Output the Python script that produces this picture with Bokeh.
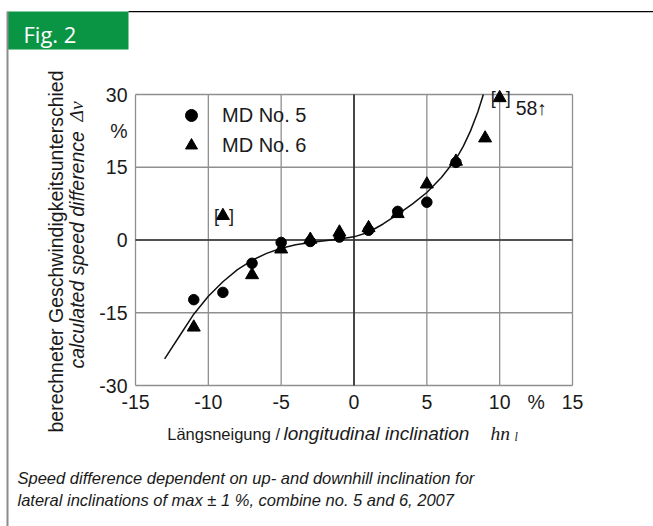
import math
from bokeh.plotting import figure
from bokeh.models import Range1d, FixedTicker, Label, BoxAnnotation
from bokeh.embed import file_html
from bokeh.resources import INLINE

# ---------------- data ----------------
x_axis_ticks = [-15, -10, -5, 0, 5, 10, 12.5, 15]
x_axis_labels = ["-15", "-10", "-5", "0", "5", "10", "%", "15"]
y_axis_ticks = [-30, -15, 0, 15, 22.5, 30]
y_axis_labels = ["-30", "-15", "0", "15", "%", "30"]

md5_x = [-11, -9, -7, -5, -3, -1, 1, 3, 5, 7]
md5_y = [-12.3, -10.8, -4.8, -0.5, -0.3, 0.6, 2.0, 5.9, 7.8, 16.0]

md6_x = [-11, -7, -5, -3, -1, 1, 3, 5, 7, 9]
md6_y = [-18.0, -7.2, -1.9, 0.1, 1.6, 2.5, 5.4, 11.5, 16.2, 21.0]

# bracketed (excluded) MD No. 6 values; the one at 10 % is 58 %, drawn at the top edge
md6_flag_x = [-9, 10]
md6_flag_y = [5.0, 29.3]
md6_flag_note = ["", "58\u2191"]

curve_x = [-13, -12, -11, -10, -9, -8, -7, -6, -5, -4, -3, -2, -1, 0,
           1, 2, 3, 4, 5, 6, 7, 7.5, 8, 8.5, 8.88]
curve_y = [-24.5, -19.9, -15.3, -11.6, -8.6, -6.1, -4.2, -2.75, -1.7, -1.0, -0.5, -0.15, 0.2, 0.65,
           1.6, 3.3, 5.3, 7.4, 9.8, 12.9, 16.7, 19.3, 22.5, 26.4, 30.0]

X_MIN, X_MAX = -15, 15
Y_MIN, Y_MAX = -30, 30

# ---------------- layout (pixels on the page) ----------------
W, H = 653, 526
PL, PR, PT, PB = 135, 572, 94, 385   # plot-area edges


def dx(px):
    return X_MIN + (px - PL) * (X_MAX - X_MIN) / (PR - PL)


def dy(py):
    return Y_MAX - (py - PT) * (Y_MAX - Y_MIN) / (PB - PT)


FONT = "Liberation Sans"
SERIF = "Liberation Serif"
TXT = "#1a1a1a"
GREEN = "#0a9544"
GRID = "#8f8f8f"
ZERO = "#333333"

p = figure(width=W, height=H, x_range=Range1d(dx(0), dx(W)), y_range=Range1d(dy(H), dy(0)),
           output_backend="svg", toolbar_location=None,
           min_border_left=0, min_border_right=0, min_border_top=0, min_border_bottom=0)
p.background_fill_color = "white"
p.border_fill_color = "white"
p.outline_line_color = None
p.grid.visible = False

for ax in (p.xaxis[0], p.yaxis[0]):
    ax.axis_line_color = None
    ax.major_tick_line_color = None
    ax.minor_tick_line_color = None
    ax.major_tick_in = 0
    ax.major_tick_out = 0
    ax.major_label_text_font = FONT
    ax.major_label_text_font_size = "19.5px"
    ax.major_label_text_color = TXT

p.xaxis.fixed_location = Y_MIN
p.xaxis.bounds = (X_MIN, X_MAX)
p.xaxis.ticker = FixedTicker(ticks=x_axis_ticks)
p.xaxis.major_label_overrides = {t: s for t, s in zip(x_axis_ticks, x_axis_labels)}
p.xaxis.major_label_standoff = 5

p.yaxis.fixed_location = X_MIN
p.yaxis.bounds = (Y_MIN, Y_MAX)
p.yaxis.ticker = FixedTicker(ticks=y_axis_ticks)
p.yaxis.major_label_overrides = {t: s for t, s in zip(y_axis_ticks, y_axis_labels)}
p.yaxis.major_label_standoff = 8

# grid lines limited to the plot area (taken from the tick lists)
gx = [t for t, s in zip(x_axis_ticks, x_axis_labels) if s != "%"]
gy = [t for t, s in zip(y_axis_ticks, y_axis_labels) if s != "%"]
p.segment(x0=gx, y0=[Y_MIN] * len(gx), x1=gx, y1=[Y_MAX] * len(gx), line_color=GRID, line_width=1.3)
p.segment(x0=[X_MIN] * len(gy), y0=gy, x1=[X_MAX] * len(gy), y1=gy, line_color=GRID, line_width=1.3)
# dark zero lines
p.segment(x0=[0], y0=[Y_MIN], x1=[0], y1=[Y_MAX], line_color=ZERO, line_width=1.7)
p.segment(x0=[X_MIN], y0=[0], x1=[X_MAX], y1=[0], line_color=ZERO, line_width=1.7)

# curve
p.line(curve_x, curve_y, line_color="#111111", line_width=1.5)

# data points
p.scatter(md5_x, md5_y, marker="circle", size=10.5, color="black", legend_label="MD No. 5")
p.scatter(md6_x, md6_y, marker="triangle", size=13, color="black", legend_label="MD No. 6")
p.scatter(md6_flag_x, md6_flag_y, marker="triangle", size=13, color="black")

for fx, fy, note in zip(md6_flag_x, md6_flag_y, md6_flag_note):
    p.add_layout(Label(x=fx, y=fy, x_offset=-4, text="[", text_align="right", text_baseline="middle",
                       text_font=FONT, text_font_size="18px", text_color=TXT))
    p.add_layout(Label(x=fx, y=fy, x_offset=6, text="]", text_align="left", text_baseline="middle",
                       text_font=FONT, text_font_size="18px", text_color=TXT))
    if note:
        p.add_layout(Label(x=fx, y=fy, x_offset=16, y_offset=-10.5, text=note, text_align="left",
                           text_baseline="alphabetic", text_font=FONT, text_font_size="19.5px",
                           text_color=TXT))

# legend
lg = p.legend[0]
lg.location = (176, 366)
lg.margin = 0
lg.padding = 0
lg.glyph_width = 30
lg.glyph_height = 30
lg.label_height = 30
lg.label_standoff = 16
lg.spacing = -4
lg.border_line_color = None
lg.background_fill_alpha = 0
lg.label_text_font = FONT
lg.label_text_font_size = "20px"
lg.label_text_color = TXT

BASE_FIX = 7  # alphabetic baseline correction (px)


# ---------------- texts around the chart ----------------
def lab(px, py, text, size, font=FONT, style="normal", angle=0.0, align="left", base="alphabetic", color=TXT):
    if base == "alphabetic":
        py = py - BASE_FIX
    p.add_layout(Label(x=dx(px), y=dy(py), text=text, angle=angle,
                       text_align=align, text_baseline=base, text_font=font, text_font_size=size,
                       text_font_style=style, text_color=color))


def box(l, r, t, b, color):
    p.add_layout(BoxAnnotation(left=dx(l), right=dx(r), top=dy(t), bottom=dy(b),
                               fill_color=color, fill_alpha=1, line_color=None))


# frame decorations: green "Fig. 2" tab, top rule, left rule
box(7, 128, 11, 49, GREEN)
box(128, W + 5, 10.4, 11.8, "black")
box(6, 8, 11, H + 5, "#8c8c8c")
lab(23, 40, "Fig. 2", "22px", font="Open Sans", color="white")

# y-axis title (two lines, rotated)
lab(55, 432, "berechneter Geschwindigkeitsunterschied", "19.5px", angle=math.pi / 2, base="middle")
lab(76, 368, "calculated speed difference", "19.5px", style="italic", angle=math.pi / 2, base="middle")
lab(76, 121, "\u0394v", "19.5px", font=SERIF, style="italic", angle=math.pi / 2, base="middle")

# x-axis title
lab(166.7, 440, "L\u00e4ngsneigung /", "16.5px")
lab(283, 440, "longitudinal inclination", "19px", style="italic")
lab(490, 440, "hn", "19.5px", font=SERIF, style="italic")
lab(514, 443, "l", "12px", font=SERIF, style="italic")

# caption
lab(17, 484, "Speed difference dependent on up- and downhill inclination for", "16.5px", style="italic")
lab(17, 506, "lateral inclinations of max \u00b1 1 %, combine no. 5 and 6, 2007", "16.5px", style="italic")

open("out.html", "w").write(file_html(p, INLINE))
